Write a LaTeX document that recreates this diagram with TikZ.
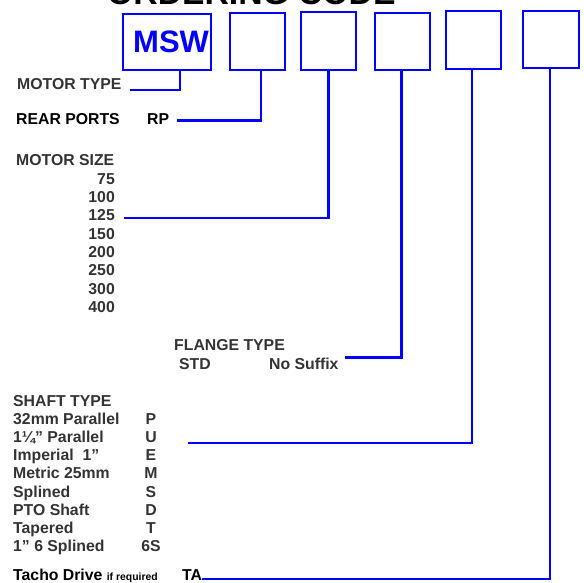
\documentclass[tikz,border=0pt]{standalone}
\usepackage{fontspec}
\setmainfont{Liberation Sans}
\definecolor{labelgrey}{HTML}{333333}
\begin{document}
\begin{tikzpicture}[x=1pt, y=-1pt,
  codebox/.style={draw=blue, line width=2.4pt, minimum width=55pt, minimum height=57pt, inner sep=0pt},
  link/.style={draw=blue, line width=2.4pt},
  lbl/.style={inner sep=0pt, text=labelgrey, font=\fontsize{15.8}{18}\selectfont\bfseries}]
	\useasboundingbox (0,0) rectangle (584,583);
	
	% 1. title (cut off at the top)
	\node[anchor=base west, inner sep=0pt, font=\fontsize{33.7}{36}\selectfont\bfseries] (title) at (107,5) {ORDERING CODE};
	
	% 2. code boxes
	\node[codebox, minimum width=88pt, minimum height=56pt, inner xsep=2pt, text width=84pt, align=right, text=blue, font=\fontsize{31}{31}\selectfont\bfseries] (bmsw) at (167,42) {MSW};
	\node[codebox] (brp) at (257.5,41.5) {};
	\node[codebox, minimum height=58pt] (bsize) at (328.5,41) {};
	\node[codebox] (bflange) at (402.5,41.5) {};
	\node[codebox, minimum height=58pt] (bshaft) at (473.5,40) {};
	\node[codebox, minimum width=56pt] (btacho) at (551,39.5) {};
	
	% 3. labels
	\node[lbl, anchor=base west] (mtype) at (17,90) {MOTOR TYPE};
	\node[lbl, anchor=base west, text=black] (rports) at (16,125) {REAR PORTS};
	\node[lbl, anchor=base west, text=black] (rp) at (147,125) {RP};
	
	\node[lbl, anchor=base west] (msize) at (16,166) {MOTOR SIZE};
	\foreach \s [count=\i] in {75,100,125,150,200,250,300,400}
		\node[lbl, anchor=base east] (ms\s) at (115,{166+18.3*\i}) {\s};
	
	\node[lbl, anchor=base west] (ftype) at (174,350) {FLANGE TYPE};
	\node[lbl, anchor=base west] (fstd) at (179,369) {STD};
	\node[lbl, anchor=base west] (fnosuf) at (269,369) {No Suffix};
	
	\node[lbl, anchor=base west] (stype) at (13,406) {SHAFT TYPE};
	\foreach \n/\c [count=\i] in {32mm Parallel/P, 1¼” Parallel/U, Imperial\ \ 1”/E, Metric 25mm/M, Splined/S, PTO Shaft/D, Tapered/T, 1” 6 Splined/6S} {
		\node[lbl, anchor=base west] (sn\i) at (13,{406+18.2*\i}) {\n};
		\node[lbl, anchor=base] (sc\i) at (151,{406+18.2*\i}) {\c};
	}
	
	\node[lbl, anchor=base west, text=black] (tacho) at (13,580) {Tacho Drive {\fontsize{10.4}{12}\selectfont if required}};
	\node[lbl, anchor=base west, text=black] (ta) at (182,580) {TA};
	
	% 4. connectors
	\draw[link] ([xshift=13pt]bmsw.south) |- ([xshift=8pt]mtype.base east);
	\draw[link] ([xshift=3.5pt]brp.south) |- ([xshift=8pt,yshift=2pt]rp.mid east);
	\draw[link] (bsize.south) |- ([xshift=9pt]ms125.mid east);
	\draw[link] ([xshift=-1pt]bflange.south) |- ([xshift=6pt]fnosuf.north east);
	\coordinate (shaftend) at (188,443);
	\draw[link] ([xshift=-1.5pt]bshaft.south) |- (shaftend);
	\draw[link] ([xshift=-1pt]btacho.south) |- ([yshift=-1.5pt]ta.mid east);
\end{tikzpicture}
\end{document}
